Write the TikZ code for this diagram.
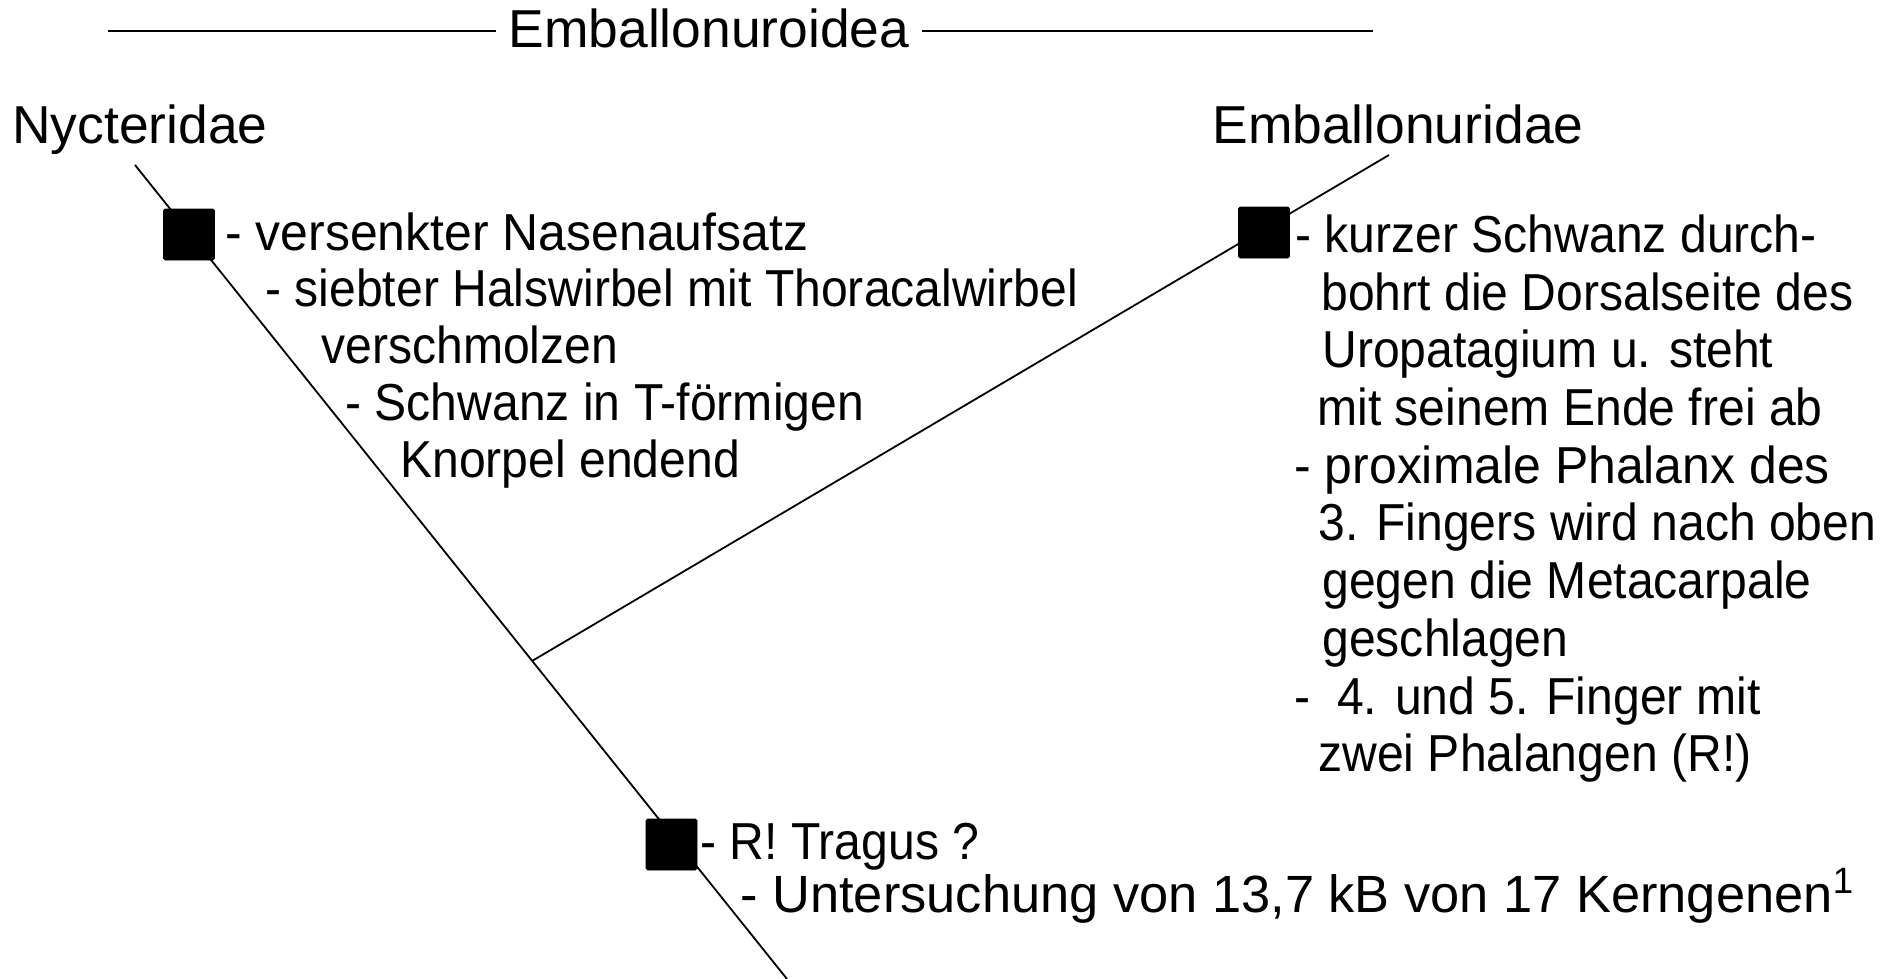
\documentclass[tikz,border=0pt]{standalone}
\usepackage{fontspec}
\setmainfont{Liberation Sans}
\newfontfamily\bodyfont[FakeStretch=0.925]{Liberation Sans}
\newfontfamily\bodyfontb[FakeStretch=0.96]{Liberation Sans}
\begin{document}
\begin{tikzpicture}[x=0.5pt,y=-0.5pt,
  txt/.style={anchor=base west,inner sep=0pt,font=\bodyfont\fontsize{26pt}{31pt}\selectfont},
  btxt/.style={anchor=base west,inner sep=0pt,font=\bodyfontb\fontsize{26pt}{31pt}\selectfont},
  wtxt/.style={anchor=base west,inner sep=0pt,font=\fontsize{26.2pt}{31pt}\selectfont},
  htxt/.style={anchor=base west,inner sep=0pt,font=\fontsize{26.7pt}{32pt}\selectfont},
  head/.style={anchor=base,inner sep=0pt,font=\fontsize{26.7pt}{32pt}\selectfont},
  charbox/.style={draw=black,fill=black,minimum width=25.5pt,minimum height=25.5pt,inner sep=0pt,rounded corners=0.8pt},
  branch/.style={line width=0.9pt,black}]
\useasboundingbox (0,0) rectangle (1894,979);

% title with side lines
\node[head,inner xsep=6pt] (title) at (709,48) {Emballonuroidea};
\coordinate (tl) at (108,31);
\coordinate (tr) at (1373,31);
\draw[line width=1pt] (tl) -- (title.west |- tl);
\draw[line width=1pt] (title.east |- tr) -- (tr);

% taxa
\node[htxt] (nyc) at (12,143) {Nycteridae};
\node[htxt] (emb) at (1212,143) {Emballonuridae};

% tree
\coordinate (ntop) at (135,165);
\coordinate (nbot) at (787,979);
\coordinate (junc) at (532,661);
\coordinate (etop) at (1389,155);
\draw[branch] (ntop) -- (nbot);
\draw[branch] (junc) -- (etop);

% character boxes
\node[charbox] (b1) at (189,234.5) {};
\node[charbox] (b2) at (1264,232.5) {};
\node[charbox] (b3) at (671.5,844.5) {};

% Nycteridae characters
\node[btxt] (n1) at (225,250) {- versenkter Nasenaufsatz};
\node[txt] (n2) at (265,306) {- siebter Halswirbel mit Thoracalwirbel};
\node[txt] (n3) at (321,363) {verschmolzen};
\node[txt] (n4) at (345,420) {- Schwanz in T-förmigen};
\node[txt] (n5) at (400,477) {Knorpel endend};

% Emballonuridae characters
\node[txt] (e1) at (1295,252) {- kurzer Schwanz durch-};
\node[txt] (e2) at (1321,310) {bohrt die Dorsalseite des};
\node[txt] (e3) at (1322,367) {Uropatagium u. steht};
\node[txt] (e4) at (1317,425) {mit seinem Ende frei ab};
\node[btxt] (e5) at (1294,483) {- proximale Phalanx des};
\node[txt] (e6) at (1318,540) {3. Fingers wird nach oben};
\node[txt] (e7) at (1322,598) {gegen die Metacarpale};
\node[txt] (e8) at (1322,656) {geschlagen};
\node[txt] (e9) at (1294,714) {- ~4. und 5. Finger mit};
\node[txt] (e10) at (1318,771) {zwei Phalangen (R!)};

% Emballonuroidea characters
\node[txt] (r1) at (700,859) {- R! Tragus ?};
\node[wtxt] (r2) at (740,912) {- Untersuchung von 13,7 kB von 17 Kerngenen\textsuperscript{1}};
\end{tikzpicture}
\end{document}
